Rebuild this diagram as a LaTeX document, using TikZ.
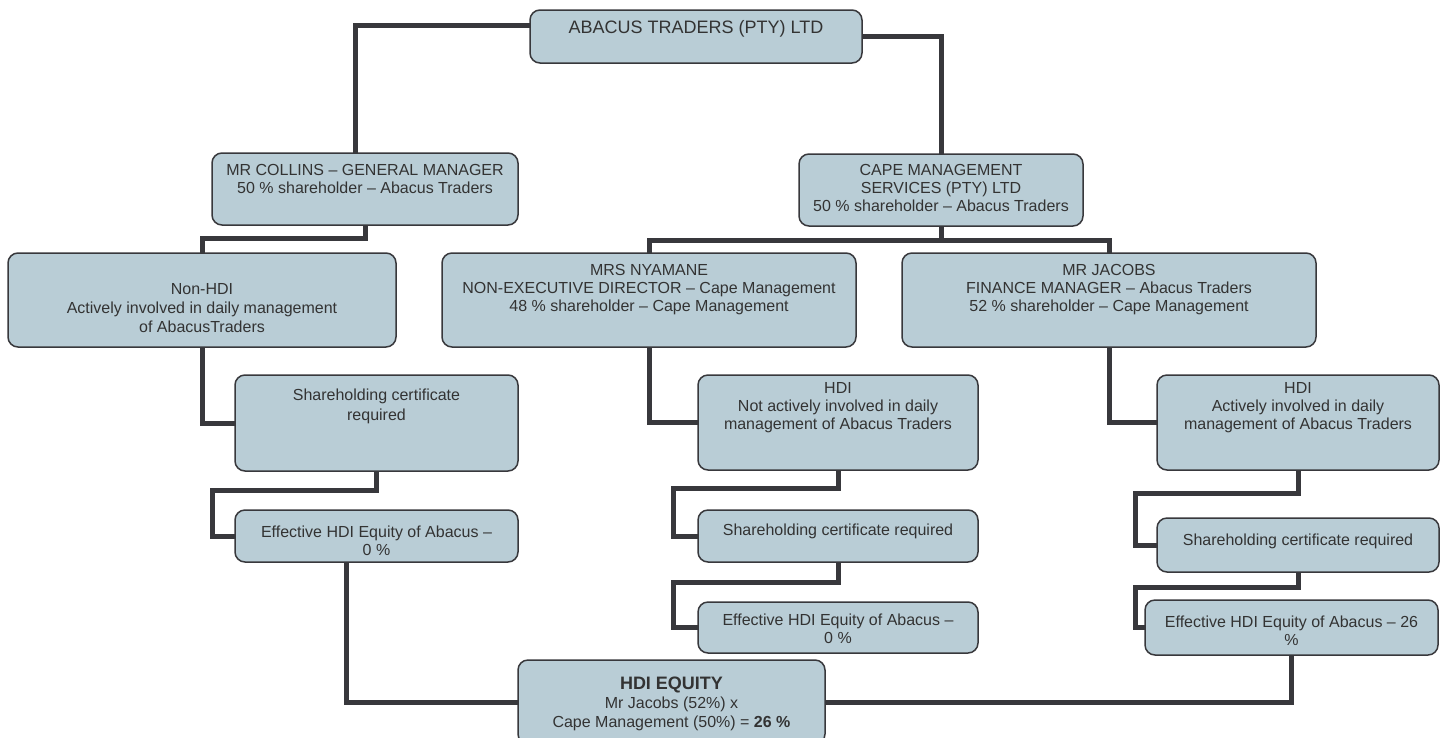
\documentclass[tikz,border=0pt]{standalone}
\usepackage{fontspec}
\setmainfont{Liberation Sans}
\definecolor{boxfill}{HTML}{B9CDD6}
\definecolor{linec}{HTML}{38383C}
\definecolor{txtc}{HTML}{333333}
\newcommand{\bxt}[4]{\parbox[c][#2pt][t]{#1pt}{\vspace*{#3pt}\centering\strut #4\par}}
\tikzset{
  bx/.style={draw=linec, line width=1.5pt, fill=boxfill, rounded corners=10pt,
    inner sep=0pt, outer sep=0pt, text=txtc, font=\fontsize{16}{18}\selectfont},
  conn/.style={draw=linec, line width=5pt}
}
\begin{document}
\begin{tikzpicture}[x=1pt,y=-1pt]
\clip (0,0) rectangle (1447,737);
\fill[white] (0,0) rectangle (1447,737);
% boxes
\node[bx, font=\fontsize{18}{21}\selectfont] (top) at (696,36.5) {\bxt{332}{53}{8.7}{ABACUS TRADERS (PTY) LTD}};
\node[bx] (collins) at (365,189) {\bxt{306}{72}{10.1}{MR COLLINS – GENERAL MANAGER\\50 \% shareholder – Abacus Traders}};
\node[bx] (cape) at (941,190) {\bxt{284}{72}{9.1}{CAPE MANAGEMENT\\SERVICES (PTY) LTD\\50 \% shareholder – Abacus Traders}};
\node[bx, font=\fontsize{16}{19}\selectfont] (nonhdi) at (202,300) {\bxt{388}{94}{28.1}{Non-HDI\\Actively involved in daily management\\of AbacusTraders}};
\node[bx] (nyamane) at (649,300) {\bxt{414}{94}{10.1}{MRS NYAMANE\\NON-EXECUTIVE DIRECTOR – Cape Management\\48 \% shareholder – Cape Management}};
\node[bx] (jacobs) at (1109,300) {\bxt{414}{94}{10.1}{MR JACOBS\\FINANCE MANAGER – Abacus Traders\\52 \% shareholder – Cape Management}};
\node[bx, font=\fontsize{16}{20}\selectfont] (share1) at (376.5,423) {\bxt{283}{96}{11.1}{Shareholding certificate\\required}};
\node[bx] (eff1) at (376.5,536) {\bxt{283}{52}{15.1}{Effective HDI Equity of Abacus –\\0 \%}};
\node[bx] (hdi2) at (838,422.5) {\bxt{280}{95}{6.1}{HDI\\Not actively involved in daily\\management of Abacus Traders}};
\node[bx] (share2) at (838,536) {\bxt{280}{52}{13.1}{Shareholding certificate required}};
\node[bx] (eff2) at (838,627.5) {\bxt{280}{51}{11.1}{Effective HDI Equity of Abacus –\\0 \%}};
\node[bx] (hdi3) at (1298,422.5) {\bxt{282}{95}{6.1}{HDI\\Actively involved in daily\\management of Abacus Traders}};
\node[bx] (share3) at (1298,545) {\bxt{282}{54}{15.1}{Shareholding certificate required}};
\node[bx] (eff3) at (1291.5,627.5) {\bxt{293}{55}{15.1}{Effective HDI Equity of Abacus – 26\\\%}};
\node[bx] (hdi) at (671.5,702) {\parbox[c][84pt][t]{307pt}{\vspace*{14.8pt}\centering
  {\fontsize{18}{21}\selectfont\bfseries\strut HDI EQUITY\par}
  \fontsize{16}{19.2}\selectfont Mr Jacobs (52\%) x\\Cape Management (50\%) = \textbf{26 \%}\par}};
% connectors
\draw[conn] ([yshift=11.5pt]top.west) -| ([xshift=-10pt]collins.north);
\draw[conn] (top.east) -| (cape.north);
\draw[conn] (collins.south) -- ++(0,13) -| (nonhdi.north);
\draw[conn] (cape.south) -- ++(0,14);
\draw[conn] (nyamane.north) -- ++(0,-13) -| (jacobs.north);
\draw[conn] (nonhdi.south) |- (share1.west);
\draw[conn] (share1.south) -- ++(0,19) -- ++(-164,0) |- (eff1.west);
\draw[conn] ([xshift=-30.5pt]eff1.south) |- (hdi.west);
\draw[conn] (hdi.east) -| (eff3.south);
\draw[conn] (nyamane.south) |- (hdi2.west);
\draw[conn] (hdi2.south) -- ++(0,18) -- ++(-165,0) |- (share2.west);
\draw[conn] (share2.south) -- ++(0,20) -- ++(-165,0) |- (eff2.west);
\draw[conn] (jacobs.south) |- (hdi3.west);
\draw[conn] (hdi3.south) -- ++(0,23) -- ++(-163,0) |- (share3.west);
\draw[conn] (share3.south) -- ++(0,15) -- ++(-163,0) |- (eff3.west);
\end{tikzpicture}
\end{document}
